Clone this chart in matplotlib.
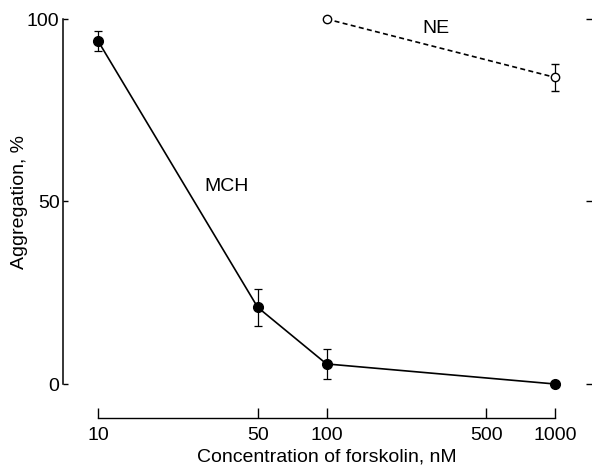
import matplotlib
matplotlib.use("Agg")
import matplotlib.pyplot as plt
from matplotlib.ticker import FixedLocator, FixedFormatter, NullLocator

plt.rcParams['font.family'] = ['Liberation Sans', 'DejaVu Sans']

# Data
mch_conc = [10, 50, 100, 1000]
mch_aggr = [94, 21, 5.5, 0]
mch_err = [2.8, 5, 4, 0]

ne_conc = [100, 1000]
ne_aggr = [100, 84]
ne_err = [0, 3.6]

x_ticks = [10, 50, 100, 500, 1000]
x_tick_labels = ['10', '50', '100', '500', '1000']
y_ticks = [0, 50, 100]
y_tick_labels = ['0', '50', '100']

FS = 14

dpi = 100
fig = plt.figure(figsize=(5.92, 4.69), dpi=dpi)
ax = fig.add_axes([98/592, (469-384)/469, (555-98)/592, (384-19)/469])

px = 72.0 / dpi  # points per pixel

ax.set_xscale('log')
ax.set_xlim(10, 1000)
ax.set_ylim(0, 100)

lw = 1.2
ax.errorbar(mch_conc, mch_aggr, yerr=mch_err, color='black', lw=lw,
            marker='o', markersize=7, markerfacecolor='black',
            ecolor='black', elinewidth=0.9, capsize=3, capthick=0.9,
            clip_on=False, zorder=3)
ax.errorbar(ne_conc, ne_aggr, yerr=ne_err, color='black', lw=lw, ls=(0, (3, 2)),
            marker='o', markersize=6, markerfacecolor='white',
            markeredgewidth=1.0, ecolor='black', elinewidth=0.9, capsize=3,
            capthick=0.9, clip_on=False, zorder=3)

ax.text(36.5, 54, 'MCH', fontsize=FS, ha='center', va='center')
ax.text(300, 97.5, 'NE', fontsize=FS, ha='center', va='center')

# Spines
ax.spines['top'].set_visible(False)
ax.spines['left'].set_position(('outward', 35 * px))
ax.spines['bottom'].set_position(('outward', 34 * px))
ax.spines['right'].set_position(('outward', 31 * px))
ax.spines['right'].set_color('none')
ax.spines['left'].set_linewidth(1.1)
ax.spines['bottom'].set_linewidth(1.0)
ax.spines['bottom'].set_bounds(10, 1000)

ax.xaxis.set_major_locator(FixedLocator(x_ticks))
ax.xaxis.set_major_formatter(FixedFormatter(x_tick_labels))
ax.xaxis.set_minor_locator(NullLocator())
ax.yaxis.set_major_locator(FixedLocator(y_ticks))
ax.yaxis.set_major_formatter(FixedFormatter(y_tick_labels))

ax.tick_params(axis='x', direction='in', length=10 * px, width=1.0,
               pad=6.5, labelsize=FS)
ax.tick_params(axis='y', which='both', left=True, right=True, labelright=False,
               direction='in', length=5 * px, width=1.0, pad=2.5, labelsize=FS)
# right ticks outward
for t in ax.yaxis.get_major_ticks():
    t.tick2line.set_marker(matplotlib.lines.TICKRIGHT)
    t.tick2line.set_markersize(6 * px)

ax.set_xlabel('Concentration of forskolin, nM', fontsize=FS, labelpad=3)
ax.set_ylabel('Aggregation, %', fontsize=FS, labelpad=-1)

fig.savefig('out.png', dpi=dpi)
